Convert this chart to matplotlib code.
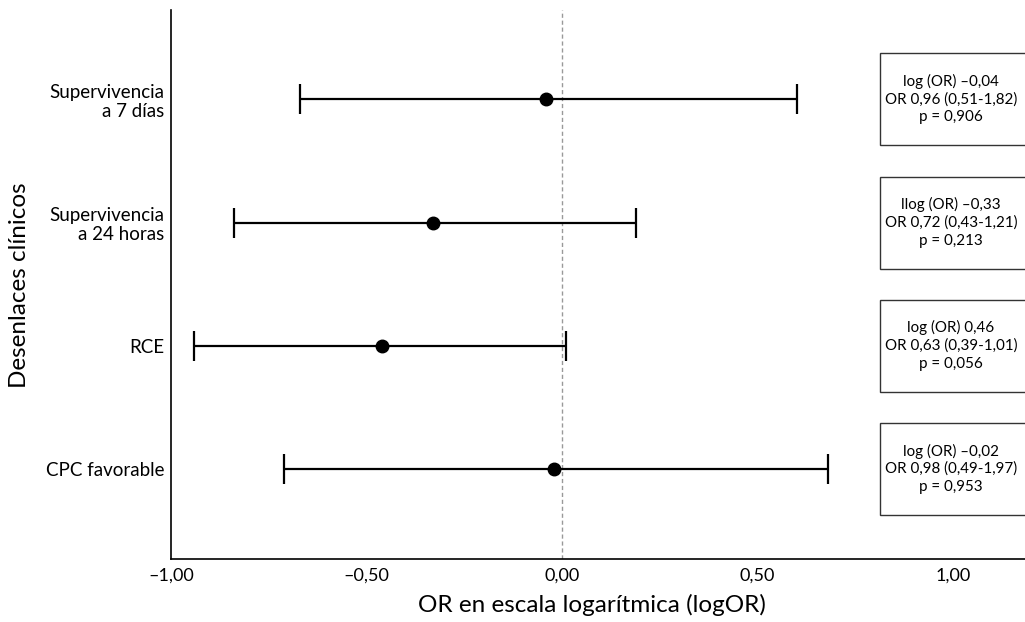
import matplotlib
matplotlib.use("Agg")
import matplotlib.pyplot as plt
from matplotlib.patches import Rectangle

plt.rcParams['font.family'] = ['Lato', 'DejaVu Sans']

# ---- data ----
outcomes = ["Supervivencia\na 7 días", "Supervivencia\na 24 horas", "RCE", "CPC favorable"]
log_or = [-0.04, -0.33, -0.46, -0.02]
ci_low = [-0.67, -0.84, -0.94, -0.71]
ci_high = [0.60, 0.19, 0.01, 0.68]
box_line1 = ["log (OR) –0,04", "llog (OR) –0,33", "log (OR) 0,46", "log (OR) –0,02"]
box_line2 = ["OR 0,96 (0,51-1,82)", "OR 0,72 (0,43-1,21)", "OR 0,63 (0,39-1,01)", "OR 0,98 (0,49-1,97)"]
box_line3 = ["p = 0,906", "p = 0,213", "p = 0,056", "p = 0,953"]
xticks = [-1.0, -0.5, 0.0, 0.5, 1.0]
xtick_labels = ["–1,00", "–0,50", "0,00", "0,50", "1,00"]

W, H = 1025, 622
fig = plt.figure(figsize=(W / 100, H / 100), dpi=100)
ax_left, ax_right = 171, 1030
ax_top, ax_bottom = 10, 559
ax = fig.add_axes([ax_left / W, (H - ax_bottom) / H, (ax_right - ax_left) / W, (ax_bottom - ax_top) / H])

n = len(outcomes)
ypos = [n - 1 - i for i in range(n)]

ax.axvline(0, color="#999999", lw=1.0, ls=(0, (3, 2)), zorder=1)

for y, m, lo, hi in zip(ypos, log_or, ci_low, ci_high):
    ax.errorbar(m, y, xerr=[[m - lo], [hi - m]], fmt="o", color="black",
                ecolor="black", elinewidth=1.6, capsize=11, capthick=1.6,
                markersize=9, zorder=3)

xmin = -1.0
xmax = xmin + (ax_right - ax_left) / 391.0
ax.set_xlim(xmin, xmax)
px_per_unit_y = 123.2
ax.set_ylim(ypos[-1] - (ax_bottom - 469) / px_per_unit_y, ypos[0] + (99.5 - ax_top) / px_per_unit_y)

box_x0 = (880 - 562) / 391.0
box_h = 92 / px_per_unit_y
text_x = (951 - 562) / 391.0
dy = 18.0 / px_per_unit_y
for y, l1, l2, l3 in zip(ypos, box_line1, box_line2, box_line3):
    ax.add_patch(Rectangle((box_x0, y - box_h / 2), 1.0, box_h, facecolor="white",
                           edgecolor="#333333", lw=1.0, zorder=2, clip_on=False))
    for k, t in enumerate([l1, l2, l3]):
        ax.text(text_x, y + dy - k * dy, t, ha="center", va="center", fontsize=10.9, zorder=4)

ax.set_yticks(ypos)
ax.set_yticklabels(outcomes, fontsize=13.5, linespacing=1.15)
ax.set_xticks(xticks)
ax.set_xticklabels(xtick_labels, fontsize=13)
ax.tick_params(axis="both", length=0)
ax.tick_params(axis="x", pad=6)
ax.tick_params(axis="y", pad=5)

for s in ["top", "right"]:
    ax.spines[s].set_visible(False)
for s in ["left", "bottom"]:
    ax.spines[s].set_linewidth(1.2)
    ax.spines[s].set_color("black")

fig.text(592 / W, 1 - 605 / H, "OR en escala logarítmica (logOR)", ha="center", va="center", fontsize=17.5)
fig.text(20 / W, 1 - 285 / H, "Desenlaces clínicos", ha="center", va="center", rotation=90, fontsize=17.5)

fig.savefig("out.png", dpi=100)
